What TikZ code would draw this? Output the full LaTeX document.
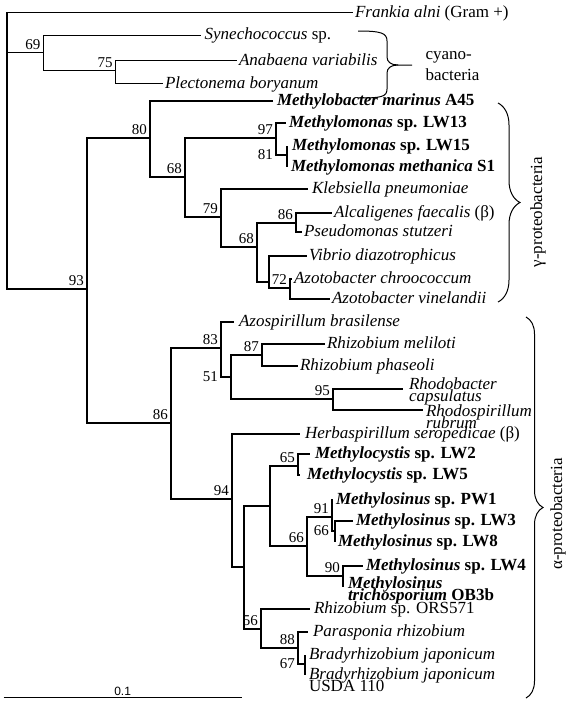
\documentclass[tikz,border=0pt]{standalone}
\usepackage{fontspec}
\setmainfont{Liberation Serif}
\newfontfamily\barfont{Liberation Sans}
\usetikzlibrary{positioning,decorations.pathreplacing}
\tikzstyle{taxon}=[
        anchor = west,
        inner xsep = 2pt,
        inner ysep = 0pt,
        outer sep = 0pt,
        font = {\fontsize{17}{12}\selectfont\lineskiplimit=-20pt}
    ]
\tikzstyle{leaf}=[
        taxon,
        text height = 12pt,
        text depth = 3pt
    ]
\tikzstyle{twoline}=[
        taxon,
        align = left
    ]
\tikzstyle{boot}=[
        above left,
        inner sep = 2.5pt,
        font = \fontsize{15}{15}\selectfont
    ]

\begin{document}
\begin{tikzpicture}[x=1pt, y=-1pt, line width=1.1pt,
        grouplabel/.style = {font=\fontsize{17}{21}\selectfont, inner sep=0pt, align=left},
        clade/.style = {decorate, decoration={brace, amplitude=#1}, line width=1pt}]
        \useasboundingbox (0,0) rectangle (567,702);

        % inner nodes
        \coordinate (root) at (7,52.4);
        \coordinate (n69) at (43.4,52.4);
        \coordinate (n75) at (115.7,70.5);
        \coordinate (n93) at (87,289);
        \coordinate (n80) at (150,138);
        \coordinate (n68a) at (185,177);
        \coordinate (n97) at (276,138);
        \coordinate (n81) at (287,155);
        \coordinate (n79) at (221,217);
        \coordinate (n68b) at (257,247);
        \coordinate (n86a) at (296,223);
        \coordinate (nvib) at (269,282);
        \coordinate (n72) at (290,288);
        \coordinate (n86) at (171,423);
        \coordinate (n83) at (221,348);
        \coordinate (n51) at (231,377);
        \coordinate (n87) at (262,355);
        \coordinate (n95) at (333,399);
        \coordinate (n94) at (232,499);
        \coordinate (nmeth) at (244,567);
        \coordinate (nlw) at (270,506);
        \coordinate (n65) at (298,466);
        \coordinate (n66a) at (307,546);
        \coordinate (n91) at (332,517);
        \coordinate (n66b) at (335,531);
        \coordinate (n90) at (343,576);
        \coordinate (n56) at (261,629);
        \coordinate (n88) at (298,648);
        \coordinate (n67) at (305,664);

        % leaves
        \node[leaf] (frankia) at (353,12.7) {\textit{Frankia alni} (Gram +)};
        \node[leaf, inner xsep=4pt] (synechococcus) at (200.7,35.4) {\textit{Synechococcus} sp.};
        \node[leaf] (anabaena) at (237,60.8) {\textit{Anabaena variabilis}};
        \node[leaf] (plectonema) at (163,83.9) {\textit{Plectonema boryanum}};
        \node[leaf, inner xsep=4pt] (marinus) at (273,101) {\textbf{\textit{Methylobacter marinus} A45}};
        \node[leaf, inner xsep=3pt] (lw13) at (286,123) {\textbf{\textit{Methylomonas} sp. LW13}};
        \node[leaf, inner xsep=5pt] (lw15) at (287,146) {\textbf{\textit{Methylomonas} sp. LW15}};
        \node[leaf, inner xsep=4pt] (s1) at (287,167) {\textbf{\textit{Methylomonas methanica} S1}};
        \node[leaf, inner xsep=4pt] (klebsiella) at (308,189) {\textit{Klebsiella pneumoniae}};
        \node[leaf] (alcaligenes) at (332,213) {\textit{Alcaligenes faecalis} (β)};
        \node[leaf] (pseudomonas) at (302,232) {\textit{Pseudomonas stutzeri}};
        \node[leaf] (vibrio) at (307,256) {\textit{Vibrio diazotrophicus}};
        \node[leaf] (chroococcum) at (292,279) {\textit{Azotobacter chroococcum}};
        \node[leaf] (vinelandii) at (330,299) {\textit{Azotobacter vinelandii}};
        \node[leaf, inner xsep=5pt] (azospirillum) at (234,322) {\textit{Azospirillum brasilense}};
        \node[leaf] (meliloti) at (325,344) {\textit{Rhizobium meliloti}};
        \node[leaf] (phaseoli) at (298,366) {\textit{Rhizobium phaseoli}};
        \coordinate (tcaps) at (403,389);
        \coordinate (trubrum) at (423,410);
        \node[twoline, inner xsep=6pt, yshift=-2pt] (capsulatus) at (tcaps) {\textit{Rhodobacter}\\\textit{capsulatus}};
        \node[twoline, inner xsep=3pt, yshift=-7pt] (rubrum) at (trubrum) {\textit{Rhodospirillum}\\\textit{rubrum}};
        \node[leaf, inner xsep=5pt] (herbaspirillum) at (300,434) {\textit{Herbaspirillum seropedicae} (β)};
        \node[leaf, inner xsep=5pt] (lw2) at (310,454) {\textbf{\textit{Methylocystis} sp. LW2}};
        \node[leaf, inner xsep=7pt] (lw5) at (300,475) {\textbf{\textit{Methylocystis} sp. LW5}};
        \node[leaf, inner xsep=3pt] (pw1) at (333,500) {\textbf{\textit{Methylosinus} sp. PW1}};
        \node[leaf, inner xsep=3pt] (lw3) at (353,521) {\textbf{\textit{Methylosinus} sp. LW3}};
        \node[leaf, inner xsep=3pt] (lw8) at (335,542) {\textbf{\textit{Methylosinus} sp. LW8}};
        \node[leaf, inner xsep=3pt] (lw4) at (363,566) {\textbf{\textit{Methylosinus} sp. LW4}};
        \coordinate (tob3b) at (343,587);
        \node[twoline, inner xsep=5pt, yshift=-3pt] (ob3b) at (tob3b) {\textbf{\textit{Methylosinus}}\\\textbf{\textit{trichosporium} OB3b}};
        \node[leaf, inner xsep=4pt] (ors571) at (310,609) {\textit{Rhizobium} sp. ORS571};
        \node[leaf, inner xsep=5pt] (parasponia) at (308,632) {\textit{Parasponia rhizobium}};
        \node[leaf, inner xsep=4pt] (bjap) at (305,655) {\textit{Bradyrhizobium japonicum}};
        \coordinate (tusda) at (305,675);
        \node[twoline, inner xsep=4pt, yshift=-5pt] (usda) at (tusda) {\textit{Bradyrhizobium japonicum}\\USDA 110};

        % branches
        \draw (root) |- (frankia);
        \draw (root) |- (n69);
        \draw (root) |- (n93);
        \draw (n69) |- (synechococcus);
        \draw (n69) |- (n75);
        \draw (n75) |- (anabaena);
        \draw (n75) |- (plectonema);
        \draw (n93) |- (n80);
        \draw (n93) |- (n86);
        \draw (n80) |- (marinus);
        \draw (n80) |- (n68a);
        \draw (n68a) |- (n97);
        \draw (n68a) |- (n79);
        \draw (n97) |- (lw13);
        \draw (n97) |- (n81);
        \draw (n81) |- (lw15);
        \draw (n81) |- (s1);
        \draw (n79) |- (klebsiella);
        \draw (n79) |- (n68b);
        \draw (n68b) |- (n86a);
        \draw (n68b) |- (nvib);
        \draw (n86a) |- (alcaligenes);
        \draw (n86a) |- (pseudomonas);
        \draw (nvib) |- (vibrio);
        \draw (nvib) |- (n72);
        \draw (n72) |- (chroococcum);
        \draw (n72) |- (vinelandii);
        \draw (n86) |- (n83);
        \draw (n86) |- (n94);
        \draw (n83) |- (azospirillum);
        \draw (n83) |- (n51);
        \draw (n51) |- (n87);
        \draw (n51) |- (n95);
        \draw (n87) |- (meliloti);
        \draw (n87) |- (phaseoli);
        \draw (n95) |- (tcaps);
        \draw (n95) |- (trubrum);
        \draw (n94) |- (herbaspirillum);
        \draw (n94) |- (nmeth);
        \draw (nmeth) |- (nlw);
        \draw (nmeth) |- (n56);
        \draw (nlw) |- (n65);
        \draw (nlw) |- (n66a);
        \draw (n65) |- (lw2);
        \draw (n65) |- (lw5);
        \draw (n66a) |- (n91);
        \draw (n66a) |- (n90);
        \draw (n91) |- (pw1);
        \draw (n91) |- (n66b);
        \draw (n66b) |- (lw3);
        \draw (n66b) |- (lw8);
        \draw (n90) |- (lw4);
        \draw (n90) |- (tob3b);
        \draw (n56) |- (ors571);
        \draw (n56) |- (n88);
        \draw (n88) |- (parasponia);
        \draw (n88) |- (n67);
        \draw (n67) |- (bjap);
        \draw (n67) |- (tusda);

        % bootstrap values
        \node[boot] (b69) at (n69) {69};
        \node[boot] (b75) at (n75) {75};
        \node[boot] (b93) at (n93) {93};
        \node[boot] (b80) at (n80) {80};
        \node[boot] (b68a) at (n68a) {68};
        \node[boot] (b97) at (n97) {97};
        \node[boot, left] (b81) at (n97 |- n81) {81};
        \node[boot] (b79) at (n79) {79};
        \node[boot] (b68b) at (n68b) {68};
        \node[boot] (b86a) at (n86a) {86};
        \node[boot] (b72) at (n72) {72};
        \node[boot] (b86) at (n86) {86};
        \node[boot] (b83) at (n83) {83};
        \node[boot, left] (b51) at (n83 |- n51) {51};
        \node[boot] (b87) at (n87) {87};
        \node[boot] (b95) at (n95) {95};
        \node[boot] (b94) at (n94) {94};
        \node[boot] (b65) at (n65) {65};
        \node[boot] (b66a) at (n66a) {66};
        \node[boot] (b91) at (n91) {91};
        \node[boot, left] (b66b) at (n91 |- n66b) {66};
        \node[boot] (b90) at (n90) {90};
        \node[boot] (b56) at (n56) {56};
        \node[boot] (b88) at (n88) {88};
        \node[boot, left] (b67) at (n88 |- n67) {67};

        % groups
        \draw[line width=1pt] (358,31) .. controls (381,31) and (387,33) .. (387,41) -- (387,57)
            .. controls (387,62) and (391,65) .. (398,65) -- (412,65);
        \draw[line width=1pt] (398,65) .. controls (391,65) and (387,68) .. (387,73) -- (387,89)
            .. controls (387,97) and (381,98) .. (358,98);
        \node[grouplabel, anchor=west] (cyano) at (425,66.5) {cyano-\\bacteria};
        \draw[clade=22pt] (498,103) -- (498,302);
        \node[grouplabel, rotate=90] (gamma) at (538,212) {γ-proteobacteria};
        \draw[clade=17pt] (526,317) -- (526,698);
        \node[grouplabel, rotate=90] (alpha) at (558,514) {α-proteobacteria};

        % scale bar
        \coordinate (bar0) at (3.6,697.3);
        \coordinate (bar1) at (241.7,697.3);
        \draw (bar0) -- (bar1) node [midway, above, inner sep=1.5pt, font=\barfont\fontsize{12}{12}\selectfont] (barlabel) {0.1};

    \end{tikzpicture}
\end{document}
